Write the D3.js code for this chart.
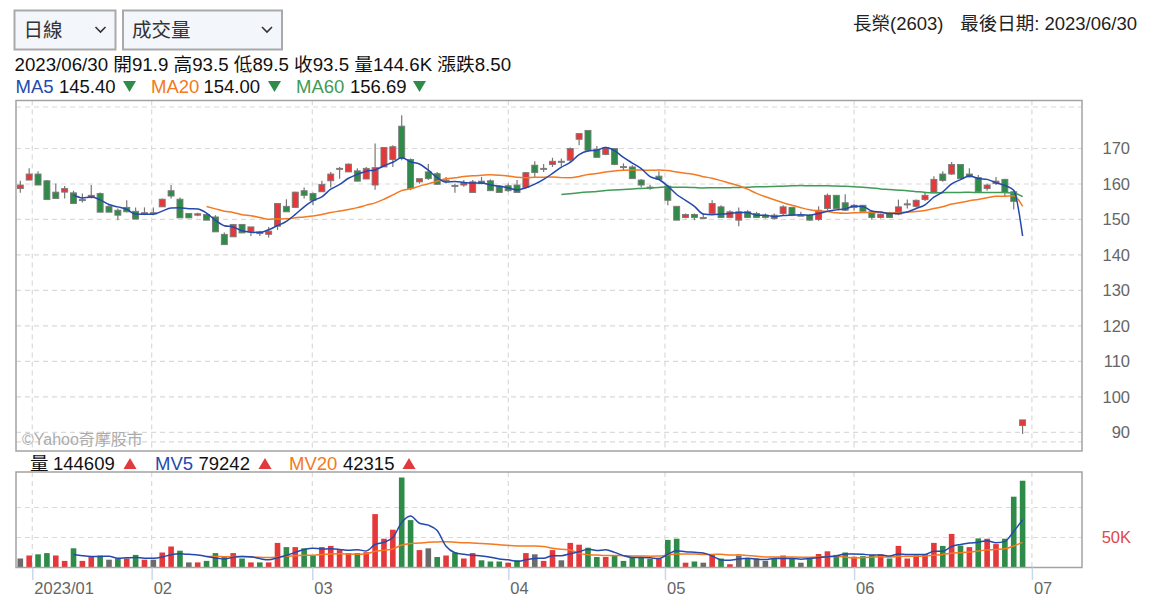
<!DOCTYPE html>
<html><head><meta charset="utf-8">
<script src="https://cdn.jsdelivr.net/npm/d3@7"></script>
<style>
html,body{margin:0;padding:0;background:#fff;}
svg{display:block;font-family:"Liberation Sans",Arial,"Noto Sans CJK TC",sans-serif;}
</style></head><body>
<svg id="chart" width="1154" height="609"></svg>
<script>
// ---------- DATA ----------
const opens = [158.7,161.1,162.8,160.9,157.7,157.7,157.5,155.6,156.2,157.3,153.7,152.6,153.4,152.3,151.7,151.9,153.55,158.1,155.7,151.7,
151.2,151.4,150.7,145.8,145.1,148.6,146.5,146.5,145.8,148.1,153.7,153.4,158.1,157.3,157.8,160.9,164.2,163.4,163.7,161.4,
159.7,164.8,166.9,176.3,166.9,160.6,163.4,162.9,160.9,159.6,159.7,157.6,160.8,160.9,159.4,159.5,159.7,159.0,165.3,164.2,
165.5,166.4,166.7,172.6,175.1,169.8,168.3,170.0,164.9,164.8,161.1,159.1,162.2,159.4,153.7,150.55,151.4,150.55,151.7,153.55,
150.55,149.8,152.15,151.7,151.2,151.2,151.7,153.4,151.2,151.2,150.0,153.1,156.8,154.7,154.0,154.0,152.15,150.55,151.7,151.5,
154.1,153.7,155.6,157.5,162.8,162.8,165.5,162.8,161.8,158.7,160.1,161.3,157.8,91.9];
const highs = [160.9,164.4,163.6,161.1,160.1,159.4,158.1,157.3,159.7,157.6,154.3,153.1,155.4,153.4,153.4,153.4,155.9,159.7,156.2,151.7,
151.9,151.7,151.2,146.3,148.6,148.6,147.9,146.8,147.9,154.5,155.7,157.8,159.0,157.6,160.9,163.4,164.8,165.8,164.4,164.8,
171.4,170.3,170.9,179.4,167.2,161.5,165.6,163.4,162.0,160.1,161.1,161.1,162.0,161.3,159.7,160.1,161.1,163.4,166.4,165.6,
167.4,167.2,170.3,174.2,175.1,170.7,170.5,170.0,165.8,165.3,161.4,159.7,163.6,159.7,153.7,151.7,151.7,151.7,155.4,154.0,
152.6,153.4,152.6,152.15,151.7,151.7,154.0,153.55,152.15,151.5,153.7,157.3,156.8,157.1,154.3,154.0,152.6,151.7,152.15,155.6,
155.6,155.6,157.8,162.2,163.6,166.2,165.6,164.4,162.5,160.1,162.0,161.5,158.25,93.5];
const lows = [157.5,161.1,159.7,155.6,155.9,155.9,154.5,154.8,155.9,152.05,152.05,149.8,152.05,150.1,151.2,151.2,153.55,155.9,150.45,150.45,
150.9,149.8,146.5,142.8,145.1,146.2,145.3,145.3,144.9,147.0,152.15,153.4,155.9,154.0,157.8,159.0,161.5,163.4,160.8,161.4,
158.4,164.8,164.8,166.7,158.25,160.1,161.1,159.7,160.1,157.5,159.2,157.6,159.9,158.1,157.6,157.8,157.6,158.7,161.8,163.4,
164.8,165.0,166.2,170.9,169.0,167.5,168.1,165.3,163.9,161.5,159.0,158.4,161.1,154.0,149.8,150.3,149.8,150.55,151.7,150.55,
150.55,148.1,150.55,150.55,150.3,150.0,151.2,150.9,151.2,149.6,149.6,152.6,153.1,152.4,152.6,152.3,150.0,150.3,150.55,151.2,
153.1,153.4,155.2,157.5,160.6,162.5,161.5,161.8,157.5,158.1,159.7,156.4,152.8,89.5];
const closes = [159.7,162.8,159.7,155.6,155.9,158.7,154.5,155.6,156.8,152.05,152.05,151.2,152.15,150.1,151.9,151.9,155.7,156.6,150.45,150.45,
151.6,149.8,146.5,142.9,148.6,146.2,147.9,146.0,146.7,154.5,152.15,157.7,156.8,155.4,159.9,162.8,164.4,165.6,160.8,164.4,
164.6,170.3,170.5,167.2,158.7,161.5,161.5,159.9,161.1,159.4,160.3,160.6,160.1,158.1,157.6,158.1,157.6,163.2,163.2,164.4,
166.4,166.4,170.0,174.2,169.5,167.5,170.2,165.5,164.8,161.5,159.7,159.0,161.3,155.4,149.8,151.4,150.55,150.55,154.5,150.55,
152.15,152.15,150.55,150.55,150.55,150.3,153.55,151.2,151.2,149.8,152.6,156.8,153.1,152.6,153.4,152.3,150.55,151.5,150.55,153.55,
154.4,155.4,156.8,161.3,161.0,165.5,161.5,162.0,157.8,159.7,160.8,157.6,155.1,93.5];
const volumes = [15000,20000,22000,24000,20000,11000,32000,11000,18000,20000,13000,15000,15000,21000,13000,13000,25000,35000,28000,8500,
8500,11000,24000,18000,24000,15000,8500,8500,8500,41000,34000,34000,32000,20000,34000,36000,29000,24000,24000,25500,
89000,48000,63000,150000,79000,29000,32000,17500,20000,25000,15000,24000,12000,10000,10000,8000,12000,24000,22000,11000,
29000,12000,41000,38000,33000,17500,17500,20000,11000,17500,17500,14500,14500,46000,48000,8000,10000,8000,22000,15000,
5500,20000,15000,15000,11000,15000,20000,15000,8000,17500,22500,27000,21000,25000,18000,19000,21000,22000,15000,36000,
15000,20000,22500,41000,36000,56000,36500,34000,48500,48000,39000,48000,118000,144609];
// volume bar direction vs previous close: u = up (red), d = down (green), n = unchanged (grey)
const volDir = [
  "n","u","d","d","u","u","d","u","u","d",
  "n","d","u","d","u","n","u","u","d","n",
  "u","d","d","d","u","d","u","d","u","u",
  "d","u","d","d","u","u","u","u","d","u",
  "u","u","u","d","d","u","n","d","u","d",
  "u","u","d","d","d","u","d","u","n","u",
  "u","n","u","u","d","d","u","d","d","d",
  "d","d","u","d","d","u","d","n","u","d",
  "u","n","d","n","n","d","u","d","n","d",
  "u","u","d","d","u","d","d","u","d","u",
  "u","u","u","u","d","u","d","u","d","u",
  "u","d","d","d"];
const xTickPos = [1.35, 14.81, 32.92, 55.02, 72.68, 94.0, 114.05];
const xTickLabels = ["2023/01", "02", "03", "04", "05", "06", "07"];
const priceTicks = [170, 160, 150, 140, 130, 120, 110, 100, 90];
const priceBounds = [181.7, 87.3];
const volGrid = [50000, 100000];
const volTicks = [50000];

// ---------- LAYOUT ----------
const svg = d3.select("#chart");
const L = 16, R = 1082, mT = 100.5, mB = 451, vT = 472, vB = 567.5;
const RED = "#e5383b", GREEN = "#2e8b48", GREY = "#6b6b6b";
const C5 = "#2449ad", C20 = "#f47920", C60 = "#3f9b57";

const x = d3.scaleLinear().domain([0, closes.length - 1]).range([20.3, 1022.6]);
const y = d3.scaleLinear().domain([90, 170]).range([432.3, 148.5]);
const yv = d3.scaleLinear().domain([0, 100000]).range([vB, 507.5]);

const idx = d3.range(closes.length);
function ma(arr, n) {
  return idx.map(i => i >= n + 1 ? d3.mean(arr.slice(i - n + 1, i + 1)) : null);
}
const ma5 = ma(closes, 5), ma20 = ma(closes, 20), ma60 = ma(closes, 60);
const mv5 = ma(volumes, 5), mv20 = ma(volumes, 20);

// ---------- GRID ----------
const grid = svg.append("g").attr("stroke", "#dadada").attr("stroke-width", 1.2).attr("stroke-dasharray", "5,4").attr("fill", "none");
grid.selectAll(".hp").data(priceTicks.concat(priceBounds)).join("line")
  .attr("x1", L).attr("x2", R).attr("y1", d => y(d)).attr("y2", d => y(d));
grid.selectAll(".hv").data(volGrid).join("line").attr("class", "hv")
  .attr("x1", L).attr("x2", R).attr("y1", d => yv(d)).attr("y2", d => yv(d));
grid.selectAll(".vp").data(xTickPos).join("line").attr("class", "vp")
  .attr("x1", d => x(d)).attr("x2", d => x(d)).attr("y1", mT).attr("y2", mB);
grid.selectAll(".vv").data(xTickPos).join("line").attr("class", "vv")
  .attr("x1", d => x(d)).attr("x2", d => x(d)).attr("y1", vT).attr("y2", vB);

// ---------- VOLUME ----------
const vcol = d => d === "u" ? RED : d === "d" ? GREEN : GREY;
svg.append("g").selectAll("rect").data(idx).join("rect")
  .attr("x", i => x(i) - 2.8).attr("width", 5.6)
  .attr("y", i => yv(volumes[i])).attr("height", i => vB - yv(volumes[i]))
  .attr("fill", i => vcol(volDir[i]));
const lineV = d3.line().defined(d => d[1] != null).x(d => x(d[0])).y(d => yv(d[1])).curve(d3.curveMonotoneX);
svg.append("path").attr("d", lineV(idx.map(i => [i, mv20[i]]))).attr("fill", "none").attr("stroke", C20).attr("stroke-width", 1.5);
svg.append("path").attr("d", lineV(idx.map(i => [i, mv5[i]]))).attr("fill", "none").attr("stroke", C5).attr("stroke-width", 1.5);

// ---------- CANDLES ----------
const ccol = i => closes[i] > opens[i] ? RED : closes[i] < opens[i] ? GREEN : GREY;
const cg = svg.append("g");
cg.selectAll("line").data(idx).join("line")
  .attr("x1", i => x(i)).attr("x2", i => x(i))
  .attr("y1", i => y(highs[i])).attr("y2", i => y(lows[i]))
  .attr("stroke", "#777").attr("stroke-width", 1.2);
cg.selectAll("rect").data(idx).join("rect")
  .attr("x", i => x(i) - 3).attr("width", 6)
  .attr("y", i => y(Math.max(opens[i], closes[i])))
  .attr("height", i => Math.max(1, Math.abs(y(opens[i]) - y(closes[i]))))
  .attr("fill", i => ccol(i)).attr("stroke", "#7a7a7a").attr("stroke-width", 0.9);

const lineP = d3.line().defined(d => d[1] != null).x(d => x(d[0])).y(d => y(d[1])).curve(d3.curveMonotoneX);
svg.append("path").attr("d", lineP(idx.map(i => [i, ma60[i]]))).attr("fill", "none").attr("stroke", C60).attr("stroke-width", 1.5);
svg.append("path").attr("d", lineP(idx.map(i => [i, ma20[i]]))).attr("fill", "none").attr("stroke", C20).attr("stroke-width", 1.5);
svg.append("path").attr("d", lineP(idx.map(i => [i, ma5[i]]))).attr("fill", "none").attr("stroke", C5).attr("stroke-width", 1.5);

// ---------- FRAMES ----------
svg.append("rect").attr("x", L).attr("y", mT).attr("width", R - L).attr("height", mB - mT)
  .attr("fill", "none").attr("stroke", "#a3a3a3").attr("stroke-width", 1.5);
svg.append("rect").attr("x", L).attr("y", vT).attr("width", R - L).attr("height", vB - vT)
  .attr("fill", "none").attr("stroke", "#a3a3a3").attr("stroke-width", 1.5);

// ---------- AXES ----------
const ay = svg.append("g").attr("transform", "translate(1130,0)")
  .call(d3.axisRight(y).tickValues(priceTicks).tickSize(0).tickPadding(0).tickFormat(d3.format("d")));
ay.select(".domain").remove();
ay.selectAll("text").attr("text-anchor", "end").attr("x", 0).attr("fill", "#666").style("font-size", "16.5px").style("font-family", "Liberation Sans, Arial, sans-serif");

const av = svg.append("g").attr("transform", "translate(1131,0)")
  .call(d3.axisRight(yv).tickValues(volTicks).tickSize(0).tickPadding(0).tickFormat(d => (d / 1000) + "K"));
av.select(".domain").remove();
av.selectAll("text").attr("text-anchor", "end").attr("x", 0).attr("fill", "#e0484a").style("font-size", "16.5px").style("font-family", "Liberation Sans, Arial, sans-serif");

const ax = svg.append("g").attr("transform", `translate(0,${vB})`)
  .call(d3.axisBottom(x).tickValues(xTickPos).tickSize(12.5).tickPadding(2).tickFormat((d, i) => xTickLabels[i]));
ax.select(".domain").remove();
ax.selectAll(".tick line").attr("stroke", "#c9d7ee").attr("stroke-width", 1.5);
ax.selectAll("text").attr("text-anchor", "start").attr("x", 1.5).attr("fill", "#666").style("font-size", "16.5px").style("font-family", "Liberation Sans, Arial, sans-serif");

// ---------- HEADER ----------
function selectBox(x0, w, label) {
  const g = svg.append("g");
  g.append("rect").attr("x", x0).attr("y", 10.5).attr("width", w).attr("height", 39)
    .attr("fill", "#f3f6fb").attr("stroke", "#a9a9a9").attr("stroke-width", 2);
  g.append("text").attr("x", x0 + 9).attr("y", 37).attr("font-size", 19.5).attr("fill", "#333").text(label);
  const cx = x0 + w - 15;
  g.append("path").attr("d", `M${cx - 5},${27} L${cx},${32} L${cx + 5},${27}`)
    .attr("fill", "none").attr("stroke", "#333").attr("stroke-width", 1.6);
}
selectBox(14.5, 101, "日線");
selectBox(123, 159, "成交量");

svg.append("text").attr("x", 853).attr("y", 30).attr("font-size", 18.5).attr("fill", "#222").text("長榮(2603)");
svg.append("text").attr("x", 1137).attr("y", 30).attr("text-anchor", "end").attr("font-size", 18.5).attr("fill", "#222").text("最後日期: 2023/06/30");

svg.append("text").attr("x", 14.5).attr("y", 71).attr("font-size", 18.7).attr("fill", "#111")
  .text("2023/06/30 開91.9 高93.5 低89.5 收93.5 量144.6K 漲跌8.50");

function tri(cx, cy, down, color) {
  const w = 6.5, h = 11;
  const d = down
    ? `M${cx - w},${cy - h / 2} L${cx + w},${cy - h / 2} L${cx},${cy + h / 2} Z`
    : `M${cx - w},${cy + h / 2} L${cx + w},${cy + h / 2} L${cx},${cy - h / 2} Z`;
  svg.append("path").attr("d", d).attr("fill", color);
}
const maLegend = [
  { name: "MA5", val: "145.40", color: C5, xn: 15.5, xv: 59, xt: 129.5 },
  { name: "MA20", val: "154.00", color: C20, xn: 151, xv: 203.5, xt: 274.5 },
  { name: "MA60", val: "156.69", color: C60, xn: 296, xv: 350, xt: 419.5 }
];
maLegend.forEach(m => {
  svg.append("text").attr("x", m.xn).attr("y", 93).attr("font-size", 18.5).attr("fill", m.color).text(m.name);
  svg.append("text").attr("x", m.xv).attr("y", 93).attr("font-size", 18.5).attr("fill", "#111").text(m.val);
  tri(m.xt, 86.5, true, "#2e8b48");
});

const volLegend = [
  { name: "量", val: "144609", color: "#111", xn: 30, xv: 53, xt: 130 },
  { name: "MV5", val: "79242", color: C5, xn: 155, xv: 198.5, xt: 265 },
  { name: "MV20", val: "42315", color: C20, xn: 289, xv: 343, xt: 409 }
];
volLegend.forEach(m => {
  svg.append("text").attr("x", m.xn).attr("y", 469.5).attr("font-size", 18.5).attr("fill", m.color).text(m.name);
  svg.append("text").attr("x", m.xv).attr("y", 469.5).attr("font-size", 18.5).attr("fill", "#111").text(m.val);
  tri(m.xt, 463.5, false, "#e0393e");
});

svg.append("text").attr("x", 22).attr("y", 445).attr("font-size", 16).attr("fill", "#ababab").text("©Yahoo奇摩股市");
</script>
</body></html>
